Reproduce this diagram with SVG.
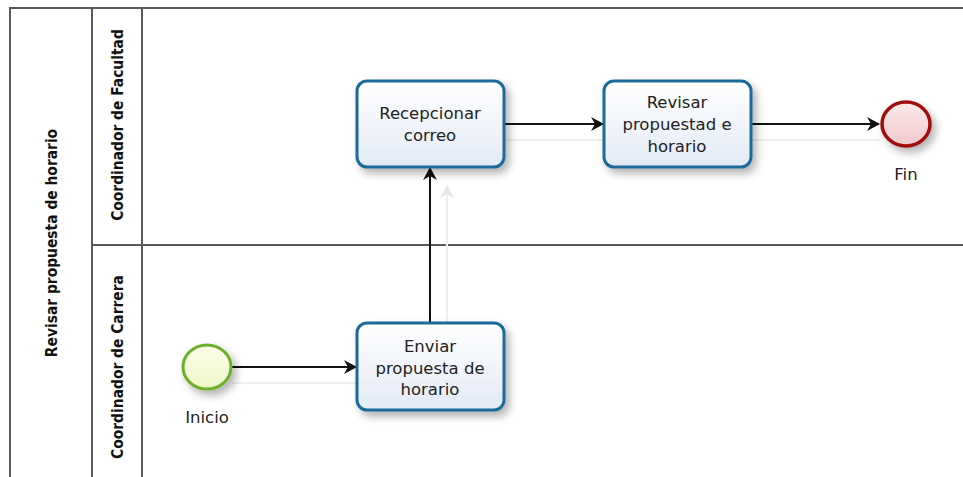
<svg xmlns="http://www.w3.org/2000/svg" width="963" height="477" viewBox="0 0 963 477">
<style>
.lane{fill:none;stroke:#5a5a5a;stroke-width:2}
.task{fill:url(#tg);stroke:#1f6a9a;stroke-width:3}
.lbl{font-family:"DejaVu Sans",Verdana,sans-serif;font-size:16.5px;fill:#222;text-anchor:middle}
.hdr{font-family:"DejaVu Sans Condensed","DejaVu Sans",sans-serif;font-weight:bold;font-size:15.4px;fill:#111;text-anchor:middle}
.flow{fill:none;stroke:#111;stroke-width:2}
.ghost{fill:none;stroke:#eeeeee;stroke-width:2}
</style>
<defs>
<linearGradient id="tg" x1="0" y1="0" x2="0" y2="1"><stop offset="0" stop-color="#ffffff"/><stop offset="1" stop-color="#e3eaf6"/></linearGradient>
<linearGradient id="sg" x1="0" y1="0" x2="0" y2="1"><stop offset="0" stop-color="#fbfde9"/><stop offset="1" stop-color="#eef7c8"/></linearGradient>
<linearGradient id="eg" x1="0" y1="0" x2="0" y2="1"><stop offset="0" stop-color="#fbe9ea"/><stop offset="1" stop-color="#f0c9cc"/></linearGradient>
<filter id="sh" x="-20%" y="-20%" width="150%" height="150%"><feGaussianBlur in="SourceAlpha" stdDeviation="4"/><feOffset dx="4" dy="5"/><feComponentTransfer><feFuncA type="linear" slope="0.3"/></feComponentTransfer><feMerge><feMergeNode/><feMergeNode in="SourceGraphic"/></feMerge></filter>
<marker id="ar" markerWidth="14" markerHeight="14" refX="12" refY="7" orient="auto" markerUnits="userSpaceOnUse"><path d="M0,0 L13,7 L0,14 L4,7 Z" fill="#111"/></marker>
<marker id="ag" markerWidth="14" markerHeight="14" refX="12" refY="7" orient="auto" markerUnits="userSpaceOnUse"><path d="M0,0 L13,7 L0,14 L4,7 Z" fill="#e6e6e6"/></marker>
</defs>
<rect width="963" height="477" fill="#ffffff"/>
<g id="pool">
<path class="lane" d="M963,8 H10 V477"/>
<line class="lane" x1="92" y1="8" x2="92" y2="477"/>
<line class="lane" x1="142" y1="8" x2="142" y2="477"/>
<line class="lane" x1="92" y1="245" x2="963" y2="245"/>
<text class="hdr" transform="translate(57,243) rotate(-90)">Revisar propuesta de horario</text>
</g>
<g id="lane-facultad"><text class="hdr" transform="translate(123,125) rotate(-90)">Coordinador de Facultad</text></g>
<g id="lane-carrera"><text class="hdr" transform="translate(123,367) rotate(-90)">Coordinador de Carrera</text></g>
<g id="connectors">
<line class="ghost" x1="232" y1="383" x2="357" y2="383"/>
<line class="ghost" x1="447" y1="323" x2="447" y2="186" marker-end="url(#ag)"/>
<line class="ghost" x1="504" y1="140" x2="604" y2="140"/>
<line class="ghost" x1="751" y1="140" x2="880" y2="140"/>
<line class="flow" x1="232" y1="367" x2="356" y2="367" marker-end="url(#ar)"/>
<line class="flow" x1="430" y1="323" x2="430" y2="168" marker-end="url(#ar)"/>
<line class="flow" x1="504" y1="124" x2="603" y2="124" marker-end="url(#ar)"/>
<line class="flow" x1="751" y1="124" x2="879" y2="124" marker-end="url(#ar)"/>
</g>
<g id="inicio">
<ellipse cx="207" cy="367" rx="24" ry="22" fill="url(#sg)" stroke="#6cb02c" stroke-width="3" filter="url(#sh)"/>
<text class="lbl" x="207" y="423">Inicio</text>
</g>
<g id="enviar">
<rect class="task" x="357" y="323" width="147" height="87" rx="10" filter="url(#sh)"/>
<text class="lbl" x="430" y="352">Enviar</text>
<text class="lbl" x="430" y="374">propuesta de</text>
<text class="lbl" x="430" y="395">horario</text>
</g>
<g id="recepcionar">
<rect class="task" x="357" y="81" width="147" height="86" rx="10" filter="url(#sh)"/>
<text class="lbl" x="430" y="119">Recepcionar</text>
<text class="lbl" x="430" y="141">correo</text>
</g>
<g id="revisar">
<rect class="task" x="604" y="81" width="147" height="86" rx="10" filter="url(#sh)"/>
<text class="lbl" x="677" y="108">Revisar</text>
<text class="lbl" x="677" y="130">propuestad e</text>
<text class="lbl" x="677" y="152">horario</text>
</g>
<g id="fin">
<ellipse cx="906" cy="124" rx="24" ry="22" fill="url(#eg)" stroke="#a00d0d" stroke-width="3.5" filter="url(#sh)"/>
<text class="lbl" x="906" y="180">Fin</text>
</g>
</svg>
